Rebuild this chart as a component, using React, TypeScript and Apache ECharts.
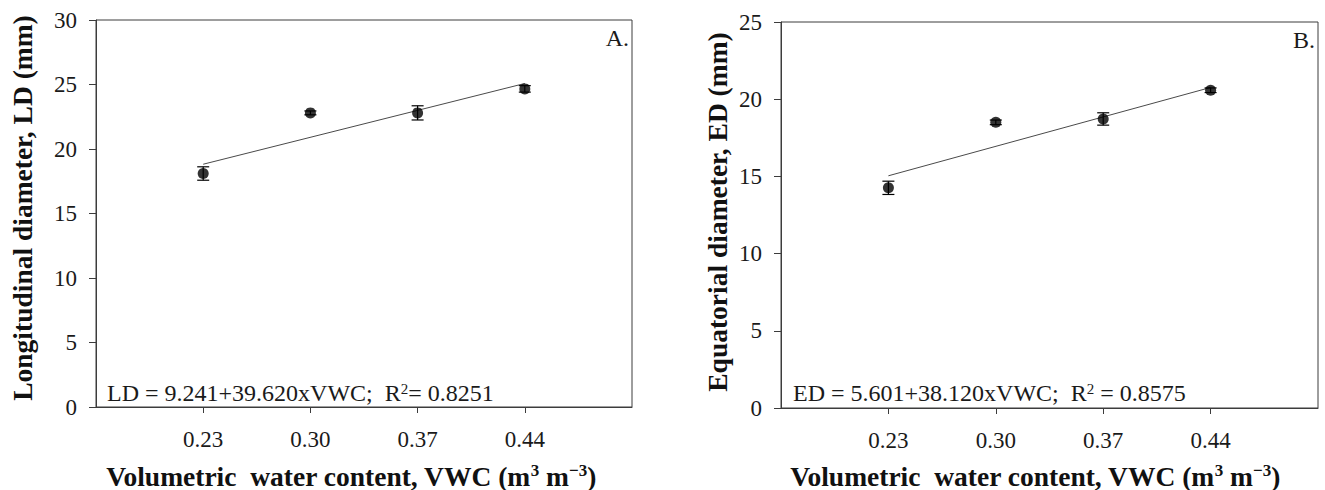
import React, { useEffect, useRef } from "react";
import * as echarts from "echarts";

// ---- data ----
const vwc = [0.23, 0.3, 0.37, 0.44];
const xTicks = [0.23, 0.3, 0.37, 0.44];

const ldMean = [18.1, 22.8, 22.8, 24.66];
const ldErr = [0.52, 0.15, 0.55, 0.25];
const edMean = [14.26, 18.5, 18.72, 20.58];
const edErr = [0.43, 0.15, 0.4, 0.15];

const fitX = [0.23, 0.44];
const ldFit = [18.82, 25.08];
const edFit = [15.04, 20.76];

const yTicksA = { min: 0, max: 30, interval: 5 };
const yTicksB = { min: 0, max: 25, interval: 5 };

const FONT = "'Liberation Serif', 'Times New Roman', serif";
const AXIS_COLOR = "#3c3c3c";

function errorBarSeries(xAxisIndex: number, yAxisIndex: number, means: number[], errs: number[]) {
  return {
    type: "custom",
    xAxisIndex,
    yAxisIndex,
    z: 3,
    data: vwc.map((x, i) => [x, means[i], errs[i]]),
    renderItem: (params: any, api: any) => {
      const x = api.value(0);
      const y = api.value(1);
      const e = api.value(2);
      const top = api.coord([x, y + e]);
      const bot = api.coord([x, y - e]);
      const hw = 6;
      const st = { stroke: "#000", lineWidth: 1.2 };
      return {
        type: "group",
        children: [
          { type: "line", shape: { x1: top[0], y1: top[1], x2: bot[0], y2: bot[1] }, style: st },
          { type: "line", shape: { x1: top[0] - hw, y1: top[1], x2: top[0] + hw, y2: top[1] }, style: st },
          { type: "line", shape: { x1: bot[0] - hw, y1: bot[1], x2: bot[0] + hw, y2: bot[1] }, style: st },
        ],
      };
    },
  };
}

function xAxisDef(gridIndex: number) {
  return {
    type: "value",
    gridIndex,
    min: 0.16,
    max: 0.51,
    axisLine: { show: true, lineStyle: { color: AXIS_COLOR, width: 1 } },
    axisTick: { show: true, length: 6, customValues: xTicks, lineStyle: { color: AXIS_COLOR } },
    axisLabel: {
      customValues: xTicks,
      formatter: (v: number) => v.toFixed(2),
      fontFamily: FONT,
      fontSize: 23,
      color: "#1a1a1a",
      margin: 21,
    },
    splitLine: { show: false },
  };
}

function yAxisDef(gridIndex: number, t: { min: number; max: number; interval: number }) {
  return {
    type: "value",
    gridIndex,
    min: t.min,
    max: t.max,
    interval: t.interval,
    axisLine: { show: true, lineStyle: { color: AXIS_COLOR, width: 1 } },
    axisTick: { show: true, length: 7, lineStyle: { color: AXIS_COLOR } },
    axisLabel: { fontFamily: FONT, fontSize: 23, color: "#1a1a1a", margin: 19 },
    splitLine: { show: false },
  };
}

const supRich = {
  sup: { fontSize: 15, fontFamily: FONT, fill: "#1a1a1a", verticalAlign: "top", lineHeight: 14 },
};
const supRichBold = {
  sup: { fontSize: 17, fontFamily: FONT, fontWeight: "bold", fill: "#111", verticalAlign: "top", lineHeight: 14 },
};

function titleText(text: string, x: number, y: number, rotate: boolean) {
  return {
    type: "text",
    x,
    y,
    rotation: rotate ? Math.PI / 2 : 0,
    style: {
      text,
      rich: supRichBold,
      fontFamily: FONT,
      fontSize: 27.5,
      fontWeight: "bold",
      fill: "#111",
      align: "center",
      verticalAlign: "middle",
    },
  };
}

export default function App() {
  const ref = useRef<HTMLDivElement>(null);
  useEffect(() => {
    if (!ref.current) return;
    const chart = echarts.init(ref.current, null, { renderer: "svg" });
    chart.setOption({
      animation: false,
      backgroundColor: "#fff",
      grid: [
        { left: 96, top: 20, width: 536, height: 387, show: true, borderColor: AXIS_COLOR, borderWidth: 1 },
        { left: 781, top: 22, width: 537, height: 386, show: true, borderColor: AXIS_COLOR, borderWidth: 1 },
      ],
      xAxis: [xAxisDef(0), xAxisDef(1)],
      yAxis: [yAxisDef(0, yTicksA), yAxisDef(1, yTicksB)],
      series: [
        {
          type: "line",
          xAxisIndex: 0,
          yAxisIndex: 0,
          data: fitX.map((x, i) => [x, ldFit[i]]),
          symbol: "none",
          lineStyle: { color: "#4a4a4a", width: 1 },
          z: 2,
        },
        errorBarSeries(0, 0, ldMean, ldErr),
        {
          type: "scatter",
          xAxisIndex: 0,
          yAxisIndex: 0,
          data: vwc.map((x, i) => [x, ldMean[i]]),
          symbol: "circle",
          symbolSize: 11,
          itemStyle: { color: "#000" },
          z: 4,
        },
        {
          type: "line",
          xAxisIndex: 1,
          yAxisIndex: 1,
          data: fitX.map((x, i) => [x, edFit[i]]),
          symbol: "none",
          lineStyle: { color: "#4a4a4a", width: 1 },
          z: 2,
        },
        errorBarSeries(1, 1, edMean, edErr),
        {
          type: "scatter",
          xAxisIndex: 1,
          yAxisIndex: 1,
          data: vwc.map((x, i) => [x, edMean[i]]),
          symbol: "circle",
          symbolSize: 11,
          itemStyle: { color: "#000" },
          z: 4,
        },
      ],
      graphic: [
        titleText("Longitudinal diameter, LD (mm)", 22, 208, true),
        titleText("Equatorial diameter, ED (mm)", 717, 212, true),
        titleText("Volumetric  water content, VWC (m{sup|3} m{sup|\u22123})", 351, 476, false),
        titleText("Volumetric  water content, VWC (m{sup|3} m{sup|\u22123})", 1035, 476, false),
        {
          type: "text",
          x: 107,
          y: 393,
          style: {
            text: "LD = 9.241+39.620xVWC;  R{sup|2}= 0.8251",
            rich: supRich,
            fontFamily: FONT,
            fontSize: 24,
            fill: "#1a1a1a",
            align: "left",
            verticalAlign: "middle",
          },
        },
        {
          type: "text",
          x: 793,
          y: 393,
          style: {
            text: "ED = 5.601+38.120xVWC;  R{sup|2} = 0.8575",
            rich: supRich,
            fontFamily: FONT,
            fontSize: 24,
            fill: "#1a1a1a",
            align: "left",
            verticalAlign: "middle",
          },
        },
        {
          type: "text",
          x: 629,
          y: 38,
          style: { text: "A.", fontFamily: FONT, fontSize: 24, fill: "#1a1a1a", align: "right", verticalAlign: "middle" },
        },
        {
          type: "text",
          x: 1315,
          y: 40,
          style: { text: "B.", fontFamily: FONT, fontSize: 24, fill: "#1a1a1a", align: "right", verticalAlign: "middle" },
        },
      ],
    });
    return () => chart.dispose();
  }, []);
  return (
    <div
      ref={ref}
      style={{ position: "absolute", left: 0, top: 0, width: 1325, height: 490, background: "#fff" }}
    />
  );
}
